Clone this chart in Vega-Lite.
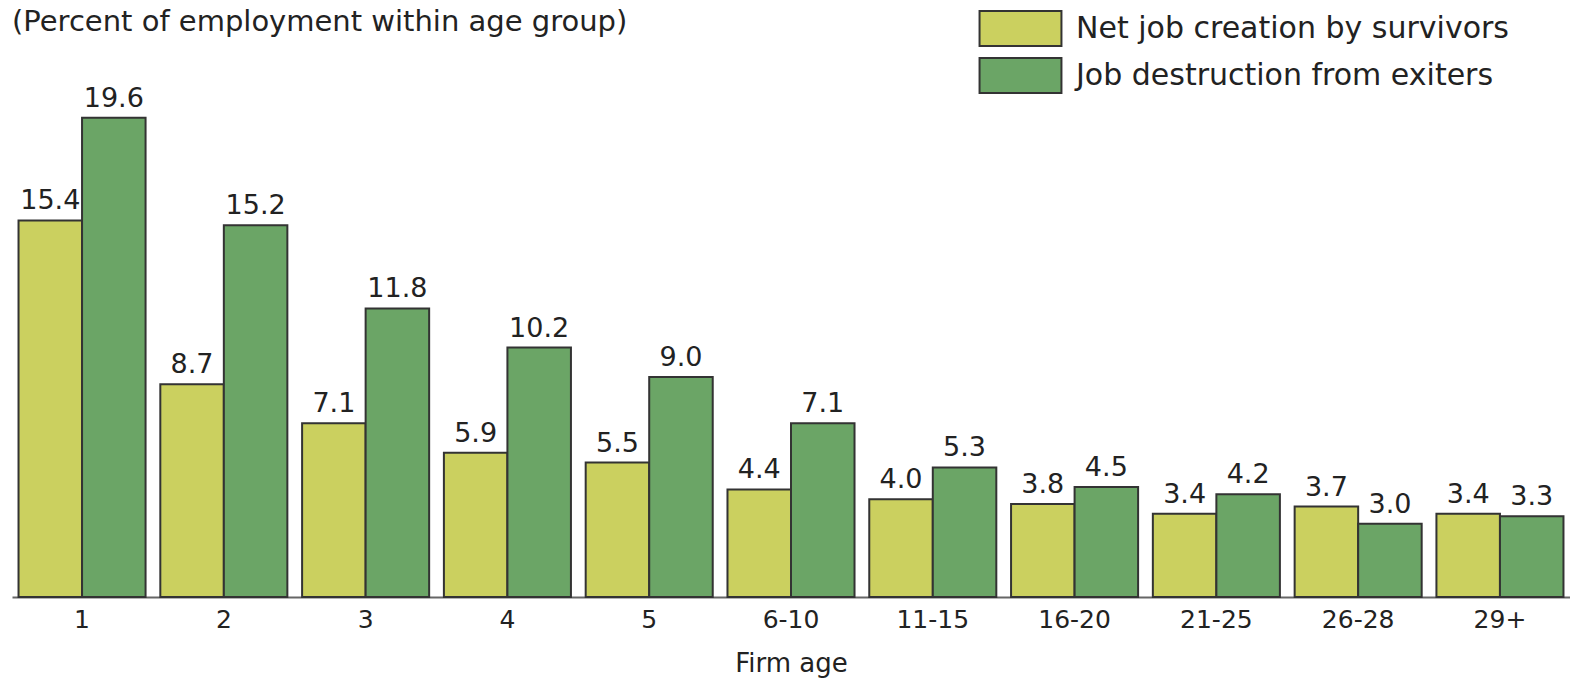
{
  "$schema": "https://vega.github.io/schema/vega-lite/v6.json",
  "autosize": "none",
  "width": 1558,
  "height": 538,
  "padding": {"left": 12, "top": 59, "right": 0, "bottom": 84},
  "background": "white",
  "config": {
    "view": {"stroke": null},
    "font": "DejaVu Sans",
    "text": {"font": "DejaVu Sans"}
  },
  "title": {
    "text": "(Percent of employment within age group)",
    "anchor": "start",
    "fontSize": 29,
    "fontWeight": "normal",
    "color": "#222",
    "font": "DejaVu Sans",
    "offset": -27
  },
  "data": {
    "values": [
      {"age": "1", "series": "Net job creation by survivors", "value": 15.4},
      {"age": "1", "series": "Job destruction from exiters", "value": 19.6},
      {"age": "2", "series": "Net job creation by survivors", "value": 8.7},
      {"age": "2", "series": "Job destruction from exiters", "value": 15.2},
      {"age": "3", "series": "Net job creation by survivors", "value": 7.1},
      {"age": "3", "series": "Job destruction from exiters", "value": 11.8},
      {"age": "4", "series": "Net job creation by survivors", "value": 5.9},
      {"age": "4", "series": "Job destruction from exiters", "value": 10.2},
      {"age": "5", "series": "Net job creation by survivors", "value": 5.5},
      {"age": "5", "series": "Job destruction from exiters", "value": 9.0},
      {"age": "6-10", "series": "Net job creation by survivors", "value": 4.4},
      {"age": "6-10", "series": "Job destruction from exiters", "value": 7.1},
      {"age": "11-15", "series": "Net job creation by survivors", "value": 4.0},
      {"age": "11-15", "series": "Job destruction from exiters", "value": 5.3},
      {"age": "16-20", "series": "Net job creation by survivors", "value": 3.8},
      {"age": "16-20", "series": "Job destruction from exiters", "value": 4.5},
      {"age": "21-25", "series": "Net job creation by survivors", "value": 3.4},
      {"age": "21-25", "series": "Job destruction from exiters", "value": 4.2},
      {"age": "26-28", "series": "Net job creation by survivors", "value": 3.7},
      {"age": "26-28", "series": "Job destruction from exiters", "value": 3.0},
      {"age": "29+", "series": "Net job creation by survivors", "value": 3.4},
      {"age": "29+", "series": "Job destruction from exiters", "value": 3.3}
    ]
  },
  "encoding": {
    "x": {
      "field": "age",
      "type": "nominal",
      "sort": null,
      "scale": {"paddingInner": 0.104, "paddingOuter": 0.046},
      "axis": {
        "title": "Firm age",
        "labelAngle": 0,
        "labelFontSize": 25,
        "labelColor": "#222",
        "labelPadding": 10,
        "labelFont": "DejaVu Sans",
        "titleFont": "DejaVu Sans",
        "titleFontSize": 26,
        "titleFontWeight": "normal",
        "titleColor": "#222",
        "titlePadding": 18,
        "ticks": false,
        "domainColor": "#666",
        "domainWidth": 2,
        "grid": false
      }
    },
    "xOffset": {"field": "series", "type": "nominal", "sort": ["Net job creation by survivors", "Job destruction from exiters"]},
    "y": {
      "field": "value",
      "type": "quantitative",
      "scale": {"domain": [0, 22], "nice": false},
      "axis": null
    }
  },
  "layer": [
    {
      "mark": {"type": "bar", "stroke": "#333", "strokeWidth": 2},
      "encoding": {
        "color": {
          "field": "series",
          "type": "nominal",
          "sort": ["Net job creation by survivors", "Job destruction from exiters"],
          "scale": {"domain": ["Net job creation by survivors", "Job destruction from exiters"], "range": ["#cbd05f", "#6ba566"]},
          "legend": {
            "title": null,
            "orient": "none",
            "legendX": 990,
            "legendY": -49,
            "padding": 0,
            "symbolType": "M-2.34,-1H2.34V1H-2.34Z",
            "symbolSize": 1225,
            "symbolStrokeColor": "#333",
            "symbolStrokeWidth": 2,
            "symbolOpacity": 1,
            "labelFontSize": 30,
            "labelFont": "DejaVu Sans",
            "labelColor": "#222",
            "labelOffset": 37,
            "rowPadding": 4,
            "labelLimit": 700
          }
        }
      }
    },
    {
      "mark": {"type": "text", "baseline": "bottom", "dy": -5, "fontSize": 27, "font": "DejaVu Sans", "color": "#222"},
      "encoding": {
        "text": {"field": "value", "type": "quantitative", "format": ".1f"}
      }
    }
  ]
}
